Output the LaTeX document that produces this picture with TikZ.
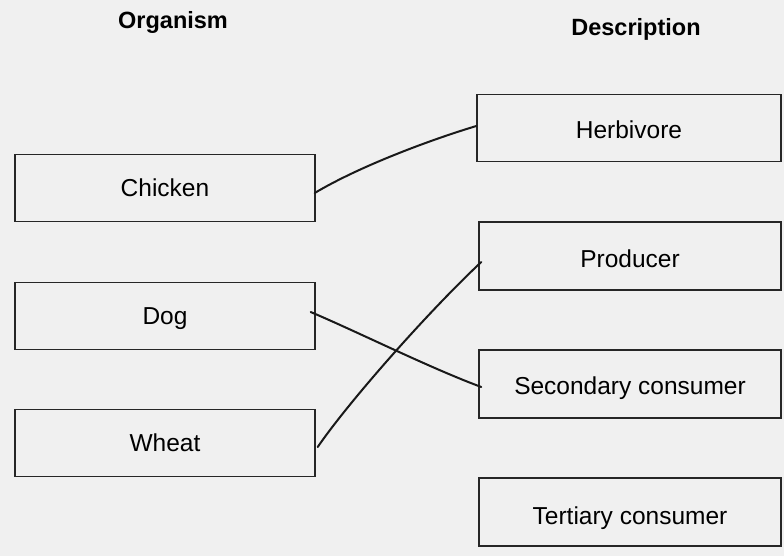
\documentclass[tikz,border=0pt]{standalone}
\usepackage{fontspec}
\setmainfont{Liberation Sans}
\begin{document}
\begin{tikzpicture}[x=1pt,y=-1pt,
  box/.style={draw=black!85,line width=1.4pt,minimum width=300pt,minimum height=67pt,inner sep=0pt,font=\fontsize{24.5}{29}\selectfont},
  down/.style={text height={18pt+#1},text depth=5pt},
  head/.style={font=\bfseries\fontsize{23.5}{28}\selectfont},
  link/.style={draw=black!90,line width=2pt,line cap=round}]
\fill[black!6] (0,0) rectangle (784,556);
\useasboundingbox (0,0) rectangle (784,556);
\node[head] (h1) at (173,22) {Organism};
\node[head] (h2) at (636,29) {Description};
\node[box,down=4pt] (chicken) at (165,188) {Chicken};
\node[box,down=4pt] (dog) at (165,316) {Dog};
\node[box,down=4pt] (wheat) at (165,443) {Wheat};
\node[box,down=9pt,minimum width=304pt] (herb) at (629,128) {Herbivore};
\node[box,down=9pt,minimum width=302pt,minimum height=68pt] (prod) at (630,256) {Producer};
\node[box,down=8pt,minimum width=302pt,minimum height=68pt] (sec) at (630,384) {Secondary consumer};
\node[box,down=11pt,minimum width=302pt,minimum height=68pt] (ter) at (630,512) {Tertiary consumer};
\coordinate (c1) at ([xshift=-1pt,yshift=-5pt]chicken.east);
\coordinate (c2) at ([yshift=2pt]herb.west);
\coordinate (d1) at ([xshift=-5pt,yshift=4pt]dog.east);
\coordinate (d2) at ([xshift=3pt,yshift=-3pt]sec.west);
\coordinate (w1) at ([xshift=2pt,yshift=-4pt]wheat.east);
\coordinate (w2) at ([xshift=3pt,yshift=-6pt]prod.west);
\draw[link] (c1) .. controls (360,166) and (430,140) .. (c2);
\draw[link] (d1) .. controls (360,333) and (430,368) .. (d2);
\draw[link] (w1) .. controls (350,400) and (430,310) .. (w2);
\end{tikzpicture}
\end{document}
